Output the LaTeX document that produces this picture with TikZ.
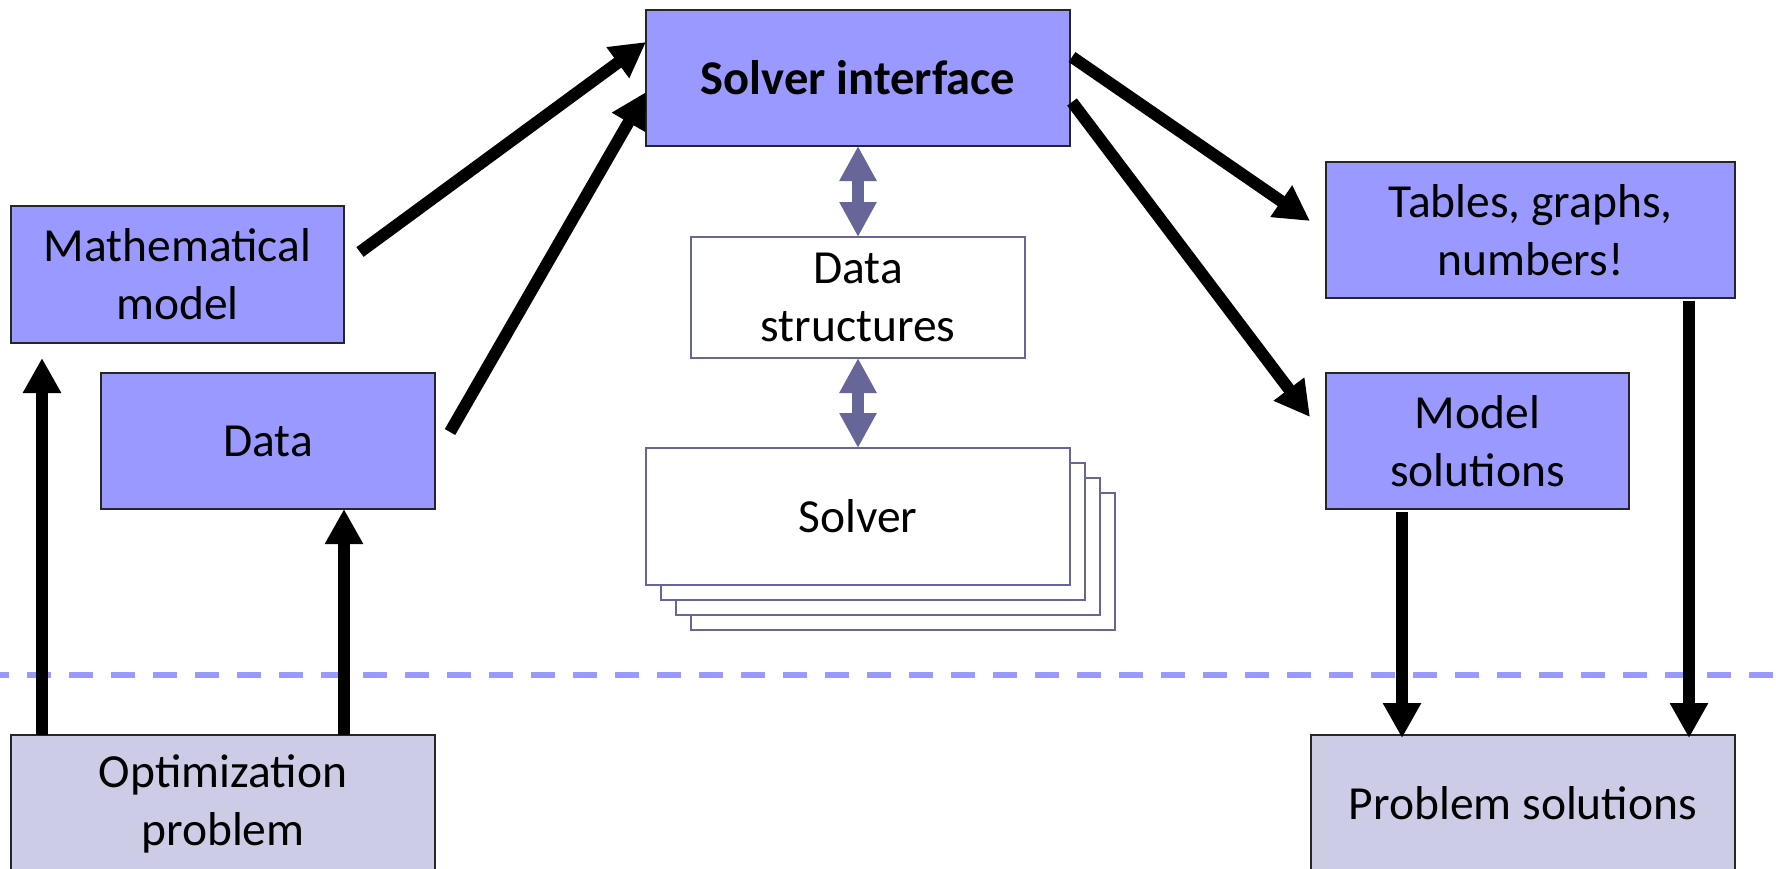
\documentclass[tikz,border=0pt]{standalone}
\usepackage{fontspec}
\setmainfont{Carlito}
\usetikzlibrary{arrows.meta}
\definecolor{boxblue}{HTML}{9999FF}
\definecolor{boxgrey}{HTML}{CCCCE6}
\definecolor{slate}{HTML}{666699}
\definecolor{dashblue}{HTML}{9999FF}

\begin{document}
\begin{tikzpicture}[x=1pt,y=-1pt,
  every node/.style={font=\fontsize{47.5}{58}\selectfont, align=center, inner sep=0pt, outer sep=0pt},
  bluebox/.style={draw=black!85, line width=1.5pt, fill=boxblue},
  greybox/.style={draw=black!85, line width=1.5pt, fill=boxgrey},
  plainbox/.style={draw=slate, line width=1.7pt, fill=white},
  arr/.style={line width=12pt, -{Triangle[length=35pt,width=36pt]}},
  dbl/.style={slate, line width=12pt, {Triangle[length=35pt,width=35pt]}-{Triangle[length=35pt,width=35pt]}},
  sep/.style={dashblue, line width=6pt, dash pattern=on 24pt off 18pt, dash phase=15pt}
]
\useasboundingbox (0,0) rectangle (1776,868);

% separator between model world and problem world
\coordinate (sepL) at (0,675);
\coordinate (sepR) at (1776,675);
\draw[sep] (sepL) -- (sepR);

% central column
\node[bluebox, minimum width=424pt, minimum height=136pt, font=\fontsize{48.5}{58}\selectfont\bfseries] (si) at (858,78) {Solver interface};
\node[plainbox, minimum width=334pt, minimum height=121pt] (ds) at (858,297.5) {Data\\structures};
\node[plainbox, minimum width=424pt, minimum height=137pt] (s4) at (903,561.5) {};
\node[plainbox, minimum width=424pt, minimum height=137pt] (s3) at (888,546.5) {};
\node[plainbox, minimum width=424pt, minimum height=137pt] (s2) at (873,531.5) {};
\node[plainbox, minimum width=424pt, minimum height=137pt] (solver) at (858,516.5) {Solver};

% inputs
\node[bluebox, minimum width=333pt, minimum height=137pt] (mm) at (177.5,274.5) {Mathematical\\model};
\node[bluebox, minimum width=334pt, minimum height=136pt] (data) at (268,441) {Data};
\node[greybox, minimum width=424pt, minimum height=137pt] (op) at (223,803.5) {Optimization\\problem};

% outputs
\node[bluebox, minimum width=409pt, minimum height=136pt] (tg) at (1530.5,230) {Tables, graphs,\\numbers!};
\node[bluebox, minimum width=303pt, minimum height=136pt] (ms) at (1477.5,441) {Model\\solutions};
\node[greybox, minimum width=424pt, minimum height=137pt] (ps) at (1523,803.5) {Problem solutions};

% data exchange with the solver
\draw[dbl] (si.south) -- (ds.north);
\draw[dbl] (ds.south) -- (solver.north);

% upward flow
\draw[arr, shorten >=15pt] ([xshift=31pt]op.north west) -- ([xshift=31pt]op.north west |- mm.south);
\draw[arr] ([xshift=333pt]op.north west) -- ([xshift=333pt]op.north west |- data.south);
\draw[arr] ([xshift=16pt,yshift=22.5pt]mm.east) -- ([yshift=36pt]si.west);
\draw[arr] ([xshift=15pt,yshift=9pt]data.east) -- ([yshift=-14pt]si.west);

% downward flow
\draw[arr] ([xshift=2pt,yshift=21pt]si.east) -- ([xshift=-16pt,yshift=9pt]tg.west);
\draw[arr] ([xshift=2pt,yshift=-24pt]si.east) -- ([xshift=-16pt,yshift=24pt]ms.west);
\draw[arr] ([xshift=76pt,yshift=-3pt]ms.south west) -- ([xshift=76pt,yshift=-3pt]ms.south west |- ps.north);
\draw[arr] ([xshift=-46pt,yshift=-3pt]tg.south east) -- ([xshift=-46pt,yshift=-3pt]tg.south east |- ps.north);
\end{tikzpicture}
\end{document}
